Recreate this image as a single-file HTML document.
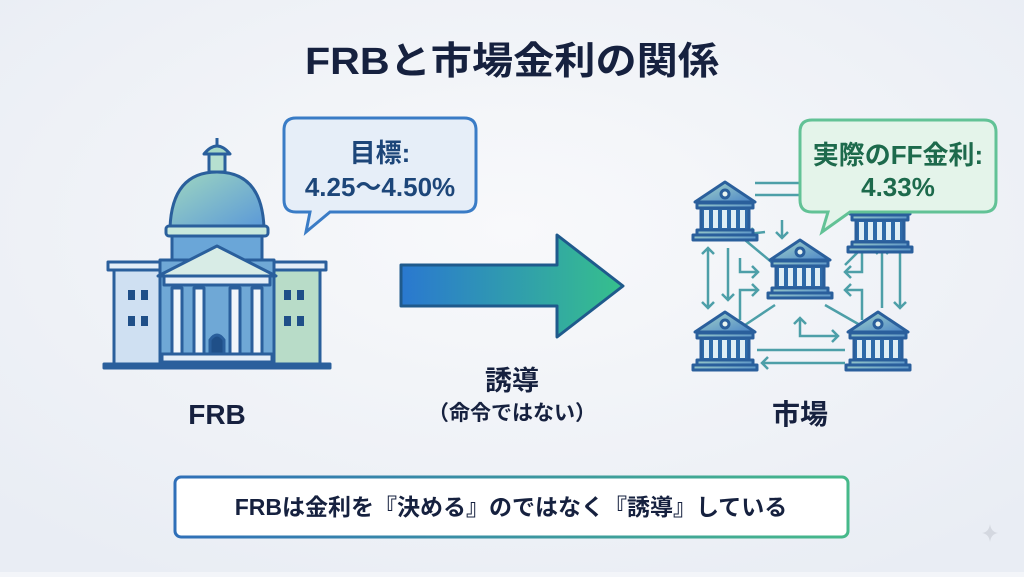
<!DOCTYPE html>
<html><head><meta charset="utf-8"><style>
html,body{margin:0;padding:0;}
body{width:1024px;height:572px;overflow:hidden;background:#f3f5f9;}
svg text{font-family:"Liberation Sans","Noto Sans CJK JP",sans-serif;font-weight:bold;}
</style></head><body>
<svg width="1024" height="572" viewBox="0 0 1024 572" xmlns="http://www.w3.org/2000/svg">
<defs>
<radialGradient id="bg" cx="50%" cy="40%" r="70%"><stop offset="0" stop-color="#f8f9fb"/><stop offset="1" stop-color="#e9edf4"/></radialGradient>
<linearGradient id="ar" x1="0" x2="1"><stop offset="0" stop-color="#2a78d0"/><stop offset="1" stop-color="#36c08c"/></linearGradient>
<linearGradient id="bx" x1="0" x2="1"><stop offset="0" stop-color="#2f6fb8"/><stop offset="1" stop-color="#46b98a"/></linearGradient>
<linearGradient id="cap" x1="0" y1="0" x2="1" y2="1"><stop offset="0" stop-color="#9fd7c0"/><stop offset="1" stop-color="#5a98d8"/></linearGradient>
<linearGradient id="bk" x1="0" y1="0" x2="1" y2="1"><stop offset="0" stop-color="#a8d8c8"/><stop offset="1" stop-color="#4a84c8"/></linearGradient>
<g id="bank" stroke="#2a5f9c" stroke-width="3" fill="url(#bk)" stroke-linejoin="round">
<path d="M-30,-8 L0,-28 L30,-8 Z"/><circle cx="0" cy="-16" r="4" fill="#eaf4f0"/>
<rect x="-28" y="-7" width="56" height="5"/>
<rect x="-24" y="-2" width="48" height="22" fill="#2e6aa8"/>
<g stroke="none" fill="#dfeef5"><rect x="-21" y="0" width="5" height="18"/><rect x="-12" y="0" width="5" height="18"/><rect x="-3" y="0" width="5" height="18"/><rect x="6" y="0" width="5" height="18"/><rect x="15" y="0" width="5" height="18"/></g>
<rect x="-28" y="20" width="56" height="5"/><rect x="-32" y="25" width="64" height="5"/>
</g>
</defs>
<rect width="1024" height="572" fill="url(#bg)"/>
<text x="512" y="74" text-anchor="middle" font-size="38" fill="#16213f" textLength="414" lengthAdjust="spacingAndGlyphs">FRBと市場金利の関係</text>

<g stroke="#2a5f9c" stroke-width="3" stroke-linejoin="round">
<line x1="217" y1="138" x2="217" y2="150"/>
<rect x="209" y="150" width="16" height="22" fill="#b6e0d0"/>
<path d="M204,154 Q217,138 230,154 Z" fill="#a6d9c6"/>
<path d="M170,228 Q172,172 217,172 Q262,172 264,228 Z" fill="url(#cap)"/>
<rect x="166" y="226" width="102" height="10" rx="3" fill="#c8e8dc"/>
<rect x="172" y="236" width="90" height="24" fill="#6aa6d8"/>
<rect x="114" y="268" width="46" height="96" fill="#cfe0f2"/>
<rect x="274" y="268" width="46" height="96" fill="#b8dcc8"/>
<rect x="108" y="262" width="58" height="8" fill="#e4eef8"/>
<rect x="268" y="262" width="58" height="8" fill="#e4eef8"/>
<rect x="160" y="260" width="114" height="104" fill="#6fa8d6"/>
<path d="M158,276 L217,246 L276,276 Z" fill="#d8ece6"/>
<rect x="164" y="276" width="106" height="9" fill="#e4eef8"/>
<rect x="172" y="288" width="10" height="66" fill="#f0f6fb"/><rect x="194" y="288" width="10" height="66" fill="#f0f6fb"/>
<rect x="230" y="288" width="10" height="66" fill="#f0f6fb"/><rect x="252" y="288" width="10" height="66" fill="#f0f6fb"/>
<path d="M210,354 V340 Q217,330 224,340 V354 Z" fill="#1f4f88"/>
<rect x="162" y="354" width="110" height="8" fill="#e4eef8"/>
<rect x="104" y="364" width="226" height="4" fill="#2a5f9c"/>
</g>
<g fill="#1f4f88"><rect x="128" y="290" width="7" height="10"/><rect x="141" y="290" width="7" height="10"/><rect x="128" y="316" width="7" height="10"/><rect x="141" y="316" width="7" height="10"/>
<rect x="284" y="290" width="7" height="10"/><rect x="297" y="290" width="7" height="10"/><rect x="284" y="316" width="7" height="10"/><rect x="297" y="316" width="7" height="10"/></g>

<path d="M296,118 H464 Q476,118 476,130 V200 Q476,212 464,212 H330 L306,232 L310,212 H296 Q284,212 284,200 V130 Q284,118 296,118 Z" fill="#e6eef8" stroke="#3a7cc6" stroke-width="3"/>
<text x="380" y="162" text-anchor="middle" font-size="26" fill="#1d4679">目標:</text>
<text x="380" y="196" text-anchor="middle" font-size="26" fill="#1d4679">4.25〜4.50%</text>

<path d="M401,265 H557 V235 L623,286 L557,337 V306 H401 Z" fill="url(#ar)" stroke="#1f5a8c" stroke-width="3" stroke-linejoin="round"/>

<text x="512" y="390" text-anchor="middle" font-size="27" fill="#16213f">誘導</text>
<text x="512" y="420" text-anchor="middle" font-size="21" fill="#16213f">（命令ではない）</text>
<text x="217" y="424" text-anchor="middle" font-size="28" fill="#16213f">FRB</text>
<text x="800" y="424" text-anchor="middle" font-size="28" fill="#16213f">市場</text>

<g stroke="#4d9fa8" stroke-width="2.5" fill="none">
<line x1="755" y1="183" x2="860" y2="183"/><line x1="755" y1="195" x2="860" y2="195"/>
<line x1="745" y1="240" x2="775" y2="265"/><line x1="845" y1="265" x2="870" y2="240"/>
<line x1="745" y1="325" x2="775" y2="305"/><line x1="825" y1="305" x2="860" y2="325"/>
<line x1="757" y1="350" x2="845" y2="350"/><path d="M845,363 H762 M768,357 L762,363 L768,369"/>
<path d="M708,248 V308 M702,254 L708,248 L714,254 M702,302 L708,308 L714,302"/>
<path d="M728,248 V300 M722,294 L728,300 L734,294"/>
<path d="M748,234 L765,232 M753,228 L748,234 L753,240"/>
<path d="M740,258 V272 H758 M752,266 L758,272 L752,278"/>
<path d="M740,320 V290 H758 M752,284 L758,290 L752,296"/>
<path d="M800,318 V336 H838 M794,324 L800,318 L806,324 M832,330 L838,336 L832,342"/>
<path d="M862,248 V272 H845 M851,266 L845,272 L851,278"/>
<path d="M862,320 V290 H845 M851,284 L845,290 L851,296"/>
<path d="M882,248 V308 M876,254 L882,248 L888,254"/>
<path d="M900,248 V308 M894,302 L900,308 L906,302"/>
<path d="M782,220 V238 M776,232 L782,238 L788,232"/>
</g>
<use href="#bank" x="725" y="210"/>
<use href="#bank" x="880" y="222"/>
<use href="#bank" x="800" y="268"/>
<use href="#bank" x="725" y="340"/>
<use href="#bank" x="878" y="340"/>

<path d="M812,120 H984 Q996,120 996,132 V200 Q996,212 984,212 H850 L822,232 L828,212 H812 Q800,212 800,200 V132 Q800,120 812,120 Z" fill="#e4f4ea" stroke="#62c296" stroke-width="3"/>
<text x="898" y="164" text-anchor="middle" font-size="26" fill="#1d6a4c">実際のFF金利:</text>
<text x="898" y="196" text-anchor="middle" font-size="26" fill="#1d6a4c">4.33%</text>

<rect x="175" y="477" width="673" height="60" rx="6" fill="#ffffff" stroke="url(#bx)" stroke-width="3"/>
<text x="511" y="515" text-anchor="middle" font-size="23" fill="#16213f">FRBは金利を『決める』のではなく『誘導』している</text>

<path d="M990,524 Q991,532 998,533 Q991,534 990,542 Q989,534 982,533 Q989,532 990,524 Z" fill="#d4d8e0"/>
</svg>
</body></html>
